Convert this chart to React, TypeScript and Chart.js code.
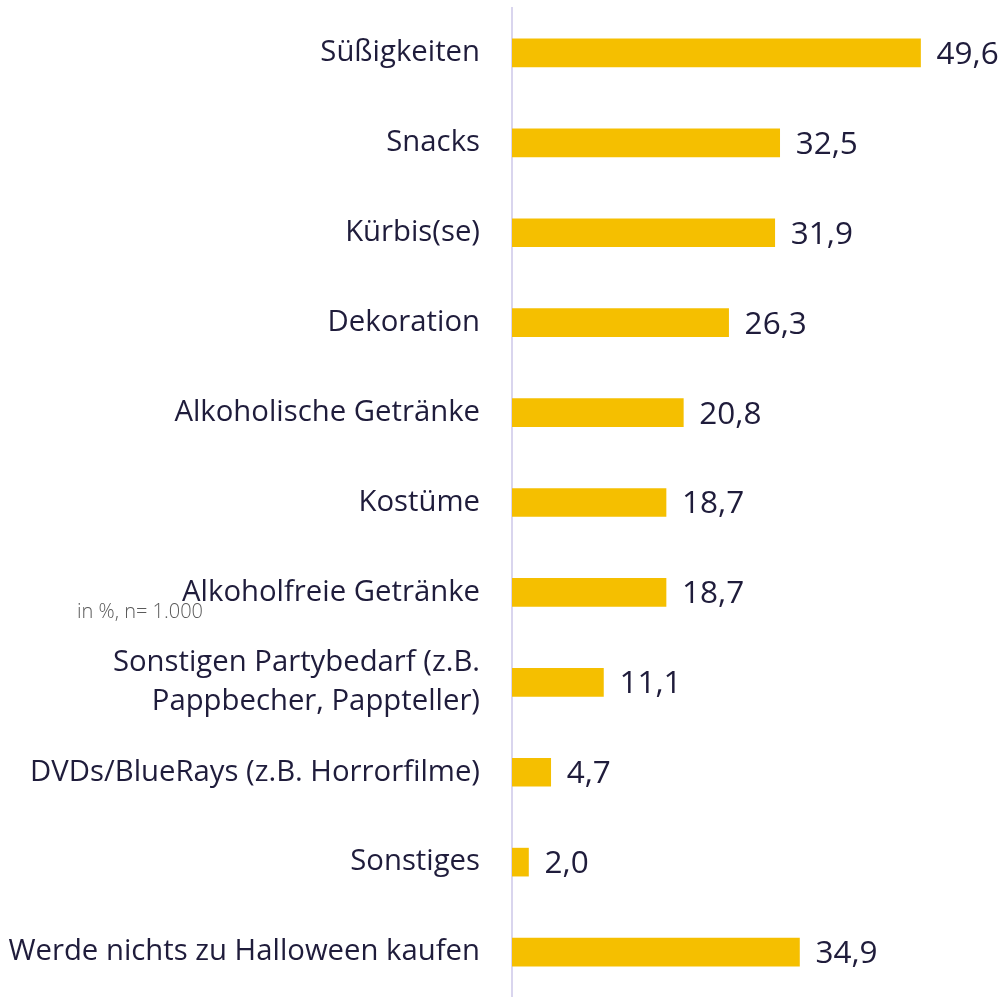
import React, { useEffect, useRef } from "react";
import { Chart, registerables } from "chart.js";

Chart.register(...registerables);

const categories: (string | string[])[] = [
  "Süßigkeiten",
  "Snacks",
  "Kürbis(se)",
  "Dekoration",
  "Alkoholische Getränke",
  "Kostüme",
  "Alkoholfreie Getränke",
  ["Sonstigen Partybedarf (z.B.", "Pappbecher, Pappteller)"],
  "DVDs/BlueRays (z.B. Horrorfilme)",
  "Sonstiges",
  "Werde nichts zu Halloween kaufen",
];
const values: number[] = [49.6, 32.5, 31.9, 26.3, 20.8, 18.7, 18.7, 11.1, 4.7, 2.0, 34.9];
const noteText = "in %, n= 1.000";

const TEXT = "#1f1c3b";
const BAR = "#f5bf00";
const FONT = "'Open Sans', 'Noto Sans', sans-serif";

const valueLabels = {
  id: "valueLabels",
  afterDatasetsDraw(chart: any) {
    const ctx = chart.ctx;
    const meta = chart.getDatasetMeta(0);
    ctx.save();
    ctx.fillStyle = TEXT;
    ctx.font = `31.5px ${FONT}`;
    ctx.textAlign = "left";
    ctx.textBaseline = "middle";
    meta.data.forEach((bar: any, i: number) => {
      const v = values[i];
      ctx.fillText(v.toFixed(1).replace(".", ","), bar.x + 16, bar.y + 2);
    });
    ctx.restore();
  },
};

const note = {
  id: "note",
  afterDraw(chart: any) {
    const ctx = chart.ctx;
    ctx.save();
    ctx.fillStyle = "#5a5a5a";
    ctx.font = `300 20px ${FONT}`;
    ctx.textAlign = "left";
    ctx.textBaseline = "middle";
    ctx.fillText(noteText, 77, 612);
    ctx.restore();
  },
};

export default function App() {
  const ref = useRef<HTMLCanvasElement | null>(null);
  useEffect(() => {
    if (!ref.current) return;
    const chart = new Chart(ref.current, {
      type: "bar",
      data: {
        labels: categories,
        datasets: [
          {
            data: values,
            backgroundColor: BAR,
            borderWidth: 0,
            barThickness: 28,
          },
        ],
      },
      options: {
        indexAxis: "y",
        animation: false,
        responsive: false,
        layout: { padding: { top: 8, right: 38, bottom: -2, left: 0 } },
        plugins: { legend: { display: false }, tooltip: { enabled: false } },
        scales: {
          x: { display: false, min: 0, max: 55 },
          y: {
            afterFit: (scale: any) => {
              scale.width = 512;
              scale.paddingTop = 0;
              scale.paddingBottom = 0;
            },
            grid: { display: false, drawTicks: false },
            border: { display: true, color: "#d9d5ee", width: 2 },
            ticks: {
              padding: 32,
              color: TEXT,
              font: { family: FONT, size: 29.3, lineHeight: 1.35 },
            },
          },
        },
      },
      plugins: [valueLabels, note],
    });
    return () => chart.destroy();
  }, []);
  return (
    <div style={{ position: "absolute", left: 0, top: 0, width: 1003, height: 997, background: "#fff" }}>
      <canvas ref={ref} width={1003} height={997} style={{ display: "block" }} />
    </div>
  );
}
